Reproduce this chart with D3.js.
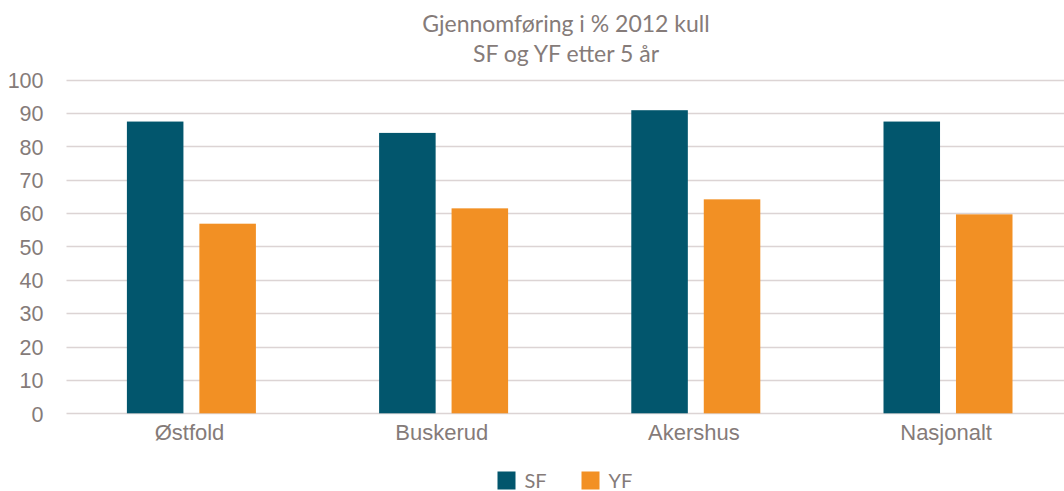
<!DOCTYPE html>
<html>
<head>
<meta charset="utf-8">
<script src="https://cdn.jsdelivr.net/npm/d3@7"></script>
<style>
  html, body { margin: 0; padding: 0; background: #fff; }
  svg { display: block; font-family: Lato, "Open Sans", sans-serif; }
</style>
</head>
<body>
<svg id="chart" width="1064" height="491"></svg>
<script>
const categories = ["Østfold", "Buskerud", "Akershus", "Nasjonalt"];
const seriesNames = ["SF", "YF"];
const sfValues = [87.4, 84.0, 90.8, 87.4];
const yfValues = [56.8, 61.4, 64.1, 59.6];
const yTicks = [0, 10, 20, 30, 40, 50, 60, 70, 80, 90, 100];
const colors = ["#02566d", "#f29024"];
const titleLines = ["Gjennomføring i % 2012 kull", "SF og YF etter 5 år"];

const svg = d3.select("#chart");
const textColor = "#857b79";

const y = d3.scaleLinear().domain([0, 100]).range([413.3, 79.5]);
const x0 = d3.scaleBand().domain(categories).range([65.4, 1074.2]).padding(0);
const x1 = d3.scaleBand().domain(seriesNames).range([61.5, 190.5]).paddingInner(0.22).paddingOuter(0);

// tick labels
const yAxis = d3.axisLeft(y).tickValues(yTicks).tickSize(0).tickPadding(0);
const gAxis = svg.append("g").attr("transform", "translate(43.5,0)").call(yAxis);
gAxis.select(".domain").remove();
gAxis.selectAll("text").attr("fill", textColor).style("font-size", "21.5px").attr("x", 0).attr("dy", "0.36em");

// gridlines
svg.append("g").selectAll("line").data(yTicks).join("line")
  .attr("x1", 66.5).attr("x2", 1064)
  .attr("y1", d => Math.round(y(d)) + 0.5).attr("y2", d => Math.round(y(d)) + 0.5)
  .attr("stroke", "#dcd4d4").attr("stroke-width", 1.5);

// bars
const data = categories.map((c, i) => ({ cat: c, vals: [
  { s: "SF", v: sfValues[i], c: colors[0] },
  { s: "YF", v: yfValues[i], c: colors[1] }
]}));

const groups = svg.append("g").selectAll("g").data(data).join("g")
  .attr("transform", d => `translate(${x0(d.cat)},0)`);
groups.selectAll("rect").data(d => d.vals).join("rect")
  .attr("x", d => x1(d.s))
  .attr("width", x1.bandwidth())
  .attr("y", d => y(d.v))
  .attr("height", d => y(0) - y(d.v))
  .attr("fill", d => d.c);

// x axis labels
const xAxis = d3.axisBottom(x0).tickSize(0).tickPadding(0);
const gx = svg.append("g").attr("transform", "translate(-2,432)").call(xAxis);
gx.select(".domain").remove();
gx.selectAll("text").attr("fill", textColor).style("font-size", "22px").attr("y", 0).attr("dy", "0.36em");

// title
svg.append("g").selectAll("text").data(titleLines).join("text")
  .attr("x", 566).attr("y", (d, i) => 32 + i * 30)
  .attr("text-anchor", "middle")
  .attr("fill", textColor)
  .style("font-size", "23px")
  .text(d => d);

// legend
const legend = svg.append("g").selectAll("g").data(seriesNames).join("g")
  .attr("transform", (d, i) => `translate(${497.5 + i * 84},471.5)`);
legend.append("rect").attr("width", 18).attr("height", 18).attr("fill", (d, i) => colors[i]);
legend.append("text").attr("x", 27).attr("y", 16.5)
  .attr("fill", textColor).style("font-size", "20px").text(d => d);
</script>
</body>
</html>
